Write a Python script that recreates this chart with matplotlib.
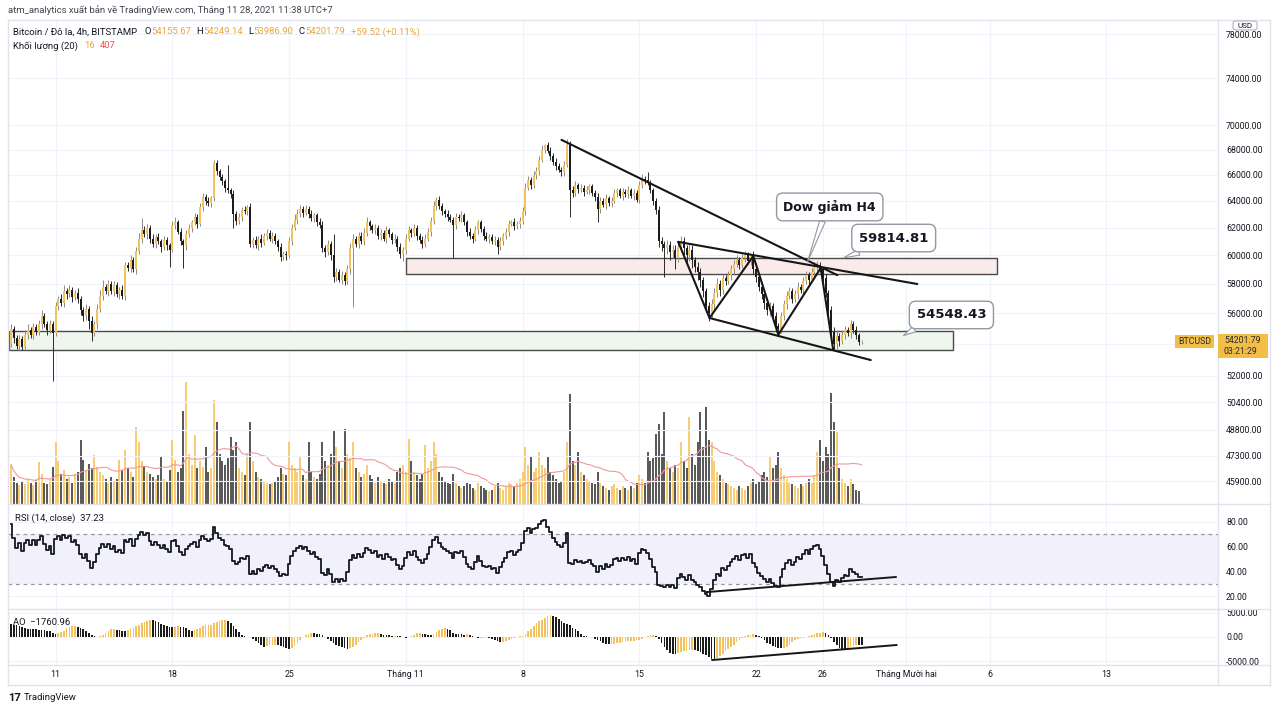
import numpy as np
import pandas as pd
import matplotlib
matplotlib.use("Agg")
import matplotlib.pyplot as plt
from matplotlib.patches import Rectangle, FancyBboxPatch
from matplotlib.lines import Line2D
from matplotlib.ticker import NullLocator, FixedLocator, FixedFormatter

plt.rcParams['font.family'] = ['Roboto', 'DejaVu Sans']

# ------------------------------------------------------------------ data
start_time = "2021-10-08 08:00"     # first 4h candle
first_open = 540.0                  # in hundreds of USD
close_h = [
    550, 544, 539, 543, 538, 546, 549, 546, 551, 548,
    553, 558, 553, 549, 553, 547, 565, 570, 567, 575,
    573, 576, 571, 574, 570, 562, 558, 563, 555, 547,
    553, 563, 572, 578, 575, 580, 575, 579, 573, 576,
    572, 593, 591, 597, 590, 603, 612, 618, 615, 620,
    612, 608, 613, 610, 606, 611, 607, 604, 622, 624,
    617, 610, 607, 615, 620, 624, 628, 623, 635, 643,
    640, 638, 642, 669, 663, 658, 655, 650, 648, 645,
    630, 625, 628, 633, 632, 635, 608, 611, 607, 612,
    609, 614, 616, 612, 614, 610, 606, 599, 601, 600,
    610, 620, 626, 630, 634, 631, 634, 630, 627, 629,
    624, 622, 605, 602, 608, 600, 585, 588, 583, 586,
    582, 590, 605, 612, 608, 614, 610, 616, 624, 621,
    618, 620, 614, 616, 612, 618, 615, 611, 612, 606,
    601, 604, 612, 618, 616, 620, 614, 611, 608, 612,
    617, 625, 636, 641, 636, 632, 630, 628, 626, 622,
    628, 627, 629, 624, 617, 614, 612, 618, 624, 619,
    614, 612, 613, 610, 611, 606, 610, 614, 617, 623,
    624, 621, 623, 625, 632, 650, 656, 652, 660, 663,
    672, 680, 684, 679, 675, 670, 667, 664, 662, 668,
    684, 648, 646, 652, 649, 650, 647, 648, 651, 646,
    643, 634, 640, 637, 642, 638, 640, 646, 648, 644,
    647, 645, 648, 644, 646, 641, 652, 657, 656, 654,
    648, 640, 633, 610, 608, 605, 607, 602, 604, 598,
    606, 610, 605, 600, 604, 597, 592, 588, 583, 575,
    565, 560, 566, 574, 580, 576, 584, 582, 586, 590,
    594, 597, 593, 598, 600, 596, 600, 590, 585, 578,
    573, 567, 562, 565, 558, 552, 550, 558, 566, 572,
    575, 570, 573, 578, 576, 582, 586, 583, 588, 592,
    593, 590, 584, 574, 562, 548, 540, 545, 542, 546,
    549, 547, 553, 549, 546, 541.56, 542.02,
]
wick_up_h = [
    3, 2, 2, 3, 2, 3, 4, 2, 3, 2,
    3, 4, 2, 2, 3, 2, 3, 2, 3, 4,
    2, 3, 2, 2, 3, 2, 2, 3, 2, 3,
    2, 3, 4, 5, 2, 3, 2, 3, 2, 2,
    3, 2, 2, 3, 2, 3, 4, 9, 3, 3,
    2, 3, 2, 3, 2, 3, 2, 2, 3, 4,
    2, 3, 2, 3, 3, 2, 3, 2, 3, 3,
    2, 3, 2, 3, 3, 2, 3, 2, 18, 2,
    3, 2, 3, 2, 3, 2, 3, 2, 3, 2,
    3, 2, 3, 2, 3, 2, 2, 3, 2, 2,
    3, 3, 4, 4, 3, 2, 3, 2, 3, 2,
    2, 3, 3, 2, 3, 2, 15, 3, 2, 3,
    2, 3, 4, 3, 2, 3, 3, 4, 4, 2,
    2, 3, 2, 3, 2, 3, 2, 2, 3, 2,
    3, 2, 3, 3, 2, 3, 2, 2, 3, 3,
    3, 3, 4, 2, 3, 2, 2, 3, 2, 2,
    3, 2, 3, 2, 2, 3, 2, 3, 2, 2,
    2, 3, 2, 2, 3, 2, 3, 2, 3, 3,
    2, 3, 2, 3, 3, 4, 3, 2, 3, 3,
    3, 4, 1, 2, 3, 2, 3, 2, 2, 3,
    5, 3, 3, 3, 2, 3, 2, 3, 2, 2,
    2, 3, 3, 2, 3, 2, 3, 3, 2, 2,
    3, 2, 3, 2, 3, 2, 3, 4, 2, 6,
    2, 2, 2, 3, 3, 2, 4, 3, 3, 3,
    3, 4, 3, 2, 4, 3, 2, 3, 3, 2,
    2, 3, 4, 3, 4, 3, 3, 2, 3, 3,
    3, 3, 2, 3, 3, 2, 1, 3, 3, 2,
    3, 2, 3, 3, 2, 3, 2, 3, 3, 3,
    3, 2, 3, 3, 2, 3, 3, 2, 3, 3,
    3, 2, 2, 3, 2, 3, 3, 4, 2, 3,
    3, 2, 3, 2, 3, 1.5, 0.47,
]
wick_dn_h = [
    2, 3, 2, 3, 2, 2, 3, 2, 3, 2,
    2, 3, 2, 3, 2, 30, 2, 3, 2, 3,
    3, 2, 3, 2, 3, 3, 3, 2, 5, 5,
    2, 3, 2, 3, 2, 3, 2, 3, 2, 3,
    2, 3, 2, 3, 2, 3, 2, 3, 2, 3,
    3, 2, 3, 2, 4, 2, 3, 12, 2, 3,
    2, 3, 16, 3, 2, 3, 2, 3, 2, 3,
    3, 2, 3, 2, 3, 2, 3, 3, 2, 3,
    10, 3, 2, 3, 2, 3, 2, 3, 2, 3,
    3, 2, 3, 2, 3, 2, 3, 3, 2, 3,
    2, 3, 2, 3, 2, 3, 2, 3, 2, 3,
    3, 2, 3, 3, 2, 3, 4, 3, 2, 3,
    3, 2, 3, 41, 2, 3, 2, 3, 2, 3,
    2, 3, 2, 3, 2, 3, 2, 3, 2, 3,
    3, 5, 3, 2, 3, 2, 3, 2, 3, 2,
    2, 3, 2, 3, 2, 3, 2, 3, 2, 24,
    3, 2, 3, 2, 3, 2, 3, 2, 3, 2,
    3, 2, 3, 2, 3, 5, 2, 3, 2, 3,
    2, 3, 2, 3, 2, 3, 2, 3, 2, 3,
    3, 2, 3, 2, 3, 2, 3, 2, 3, 3,
    2, 20, 3, 2, 3, 2, 3, 2, 3, 2,
    3, 10, 3, 2, 3, 2, 3, 2, 3, 2,
    3, 2, 3, 2, 3, 2, 3, 2, 3, 2,
    2, 3, 3, 4, 5, 20, 4, 5, 4, 8,
    3, 4, 5, 5, 4, 6, 4, 5, 5, 4,
    4, 5, 3, 4, 3, 4, 3, 3, 2, 3,
    3, 2, 3, 2, 3, 2, 3, 3, 4, 3,
    3, 4, 3, 4, 3, 3, 4, 3, 2, 3,
    2, 3, 2, 3, 2, 3, 2, 3, 2, 3,
    3, 2, 3, 3, 4, 3, 4, 3, 3, 2,
    3, 2, 3, 2, 3, 2, 1.7,
]
volume = [
    550, 380, 300, 260, 320, 280, 350, 300, 260, 330,
    590, 420, 300, 280, 350, 520, 870, 600, 420, 480,
    350, 380, 300, 420, 450, 900, 620, 480, 560, 500,
    690, 520, 450, 400, 350, 300, 380, 320, 350, 620,
    480, 760, 500, 450, 380, 1080, 870, 600, 520, 450,
    420, 380, 350, 400, 660, 350, 320, 480, 900, 620,
    450, 500, 1300, 1710, 700, 550, 970, 500, 600, 520,
    800, 450, 500, 1460, 1150, 700, 600, 550, 650, 940,
    750, 870, 500, 450, 400, 700, 1150, 600, 450, 380,
    350, 320, 300, 280, 300, 320, 380, 500, 420, 400,
    870, 550, 500, 450, 660, 400, 350, 870, 450, 380,
    350, 420, 870, 600, 550, 700, 1040, 800, 600, 500,
    1050, 700, 650, 870, 500, 450, 380, 420, 550, 400,
    350, 300, 380, 320, 300, 280, 350, 320, 300, 450,
    500, 550, 450, 910, 600, 450, 400, 350, 420, 830,
    500, 600, 870, 700, 450, 380, 320, 300, 280, 420,
    300, 250, 220, 250, 300, 280, 220, 200, 300, 250,
    220, 200, 180, 200, 250, 300, 220, 200, 250, 300,
    280, 250, 300, 350, 450, 800, 550, 660, 450, 500,
    730, 550, 500, 660, 450, 400, 350, 300, 320, 450,
    870, 1540, 600, 550, 730, 450, 400, 350, 320, 300,
    280, 450, 300, 250, 220, 200, 250, 280, 220, 200,
    250, 220, 200, 250, 220, 300, 400, 350, 300, 730,
    600, 650, 980, 1120, 700, 1290, 600, 500, 450, 550,
    500, 870, 600, 500, 1220, 700, 550, 870, 1290, 800,
    1360, 900, 870, 600, 450, 400, 350, 300, 280, 250,
    220, 200, 250, 220, 200, 250, 300, 350, 280, 320,
    400, 450, 380, 660, 500, 550, 730, 500, 400, 350,
    300, 280, 250, 220, 280, 250, 300, 350, 300, 400,
    730, 900, 600, 800, 700, 1550, 1150, 1010, 500, 350,
    300, 250, 350, 280, 200, 180, 16,
]

# indicator state before the first visible candle (estimated from the panes' left edge)
rsi_seed_gain = 150.0     # average 4h gain (USD) -> RSI about 70 at the left edge
rsi_seed_loss = 62.0      # average 4h loss (USD)
pre_median_h = [478, 480, 482, 479, 481, 483, 484, 486, 488, 485, 487, 490, 495,
                500, 505, 510, 513, 512, 520, 535, 548, 552, 550, 546, 541, 538,
                542, 545, 543, 540, 538, 542, 541]   # 33 earlier 4h medians (hundreds USD)

price_ticks = [78000, 74000, 70000, 68000, 66000, 64000, 62000, 60000, 58000,
               56000, 54000, 52000, 50400, 48800, 47300, 45900]
price_tick_labels = ["78000.00", "74000.00", "70000.00", "68000.00", "66000.00",
                     "64000.00", "62000.00", "60000.00", "58000.00", "56000.00", "",
                     "52000.00", "50400.00", "48800.00", "47300.00", "45900.00"]
rsi_ticks = [80, 60, 40, 20]
ao_ticks = [5000, 0, -5000]
date_ticks = ["2021-10-11", "2021-10-18", "2021-10-25", "2021-11-01", "2021-11-08",
              "2021-11-15", "2021-11-22", "2021-11-26", "2021-12-01", "2021-12-06",
              "2021-12-13"]
date_labels = ["11", "18", "25", "Tháng 11", "8", "15", "22", "26",
               "Tháng Mười hai", "6", "13"]

# zones (start, end, low, high)
support_zone = ("2021-10-08 04:20", "2021-12-03 19:00", 53630, 54850)
resist_zone = ("2021-11-01 00:00", "2021-12-06 11:00", 58700, 59815)

# drawings (time, value)
trend_a = [("2021-11-10 08:00", 68800), ("2021-11-26 21:00", 58600)]
trend_b = [("2021-11-17 08:00", 60960), ("2021-12-01 16:00", 57990)]
trend_low = [("2021-11-19 05:00", 55700), ("2021-11-28 21:00", 52990)]
zigzag = [("2021-11-17 08:00", 60960), ("2021-11-19 05:00", 55700),
          ("2021-11-21 20:00", 59950), ("2021-11-23 08:00", 54600),
          ("2021-11-25 21:00", 59100), ("2021-11-26 15:00", 53630)]
rsi_trend = [("2021-11-19 01:00", 23.2), ("2021-11-30 09:00", 35.4)]
ao_trend = [("2021-11-19 09:00", -4790), ("2021-11-30 10:00", -1670)]

callouts = [  # text, text pos, target pos, fontsize, rel pos of tail
    ("Dow giảm H4", ("2021-11-26 10:00", 63540), ("2021-11-25 02:00", 59530), 9.0, (0.45, 0.0)),
    ("59814.81", ("2021-11-30 06:00", 61240), ("2021-11-27 06:00", 59815), 9.5, (0.3, 0.0)),
    ("54548.43", ("2021-12-03 17:00", 55900), ("2021-11-30 20:00", 54548), 9.5, (0.15, 0.0)),
]

# ------------------------------------------------------------------ prep
T0 = pd.Timestamp("2021-10-01")


def day(s):
    return (pd.Timestamp(s) - T0) / pd.Timedelta(days=1)


n = len(close_h)
times = pd.date_range(start_time, periods=n, freq="4h")
x = ((times - T0) / pd.Timedelta(days=1)).to_numpy()
c = np.array(close_h, float) * 100
o = np.r_[first_open, close_h[:-1]].astype(float) * 100
hi = np.maximum(o, c) + np.array(wick_up_h, float) * 100
lo = np.minimum(o, c) - np.array(wick_dn_h, float) * 100
up = c >= o
vol = np.array(volume, float)
vol_ma = pd.Series(vol).rolling(20, min_periods=1).mean().to_numpy()

# RSI(14), Wilder smoothing continued from the state before the window
rsi = np.empty(n)
g, l = rsi_seed_gain, rsi_seed_loss
prev = first_open * 100
for i in range(n):
    d = c[i] - prev
    g = (g * 13 + max(d, 0)) / 14
    l = (l * 13 + max(-d, 0)) / 14
    rsi[i] = 100 - 100 / (1 + g / l)
    prev = c[i]

# Awesome Oscillator: SMA5 - SMA34 of median price
med = pd.Series(np.r_[np.array(pre_median_h, float) * 100, (hi + lo) / 2])
ao_all = med.rolling(5, min_periods=1).mean() - med.rolling(34, min_periods=1).mean()
ao = ao_all.to_numpy()[len(pre_median_h):]
ao_rise = np.diff(ao_all.to_numpy())[len(pre_median_h) - 1:] >= 0

# ------------------------------------------------------------------ style
UP = "#f4c25c"
DN = "#1c1c1c"
UP_WICK = "#8c8c8c"
DN_WICK = "#2a2a2a"
VUP = "#f6cd74"
VDN = "#5a5a5a"
GRID = "#f0f3fa"
TXT = "#131722"
FRAME = "#e0e3eb"
FS = 6.3
FSH = 6.8

W, H = 1280, 713
fig = plt.figure(figsize=(W / 100, H / 100), dpi=100)
fig.patch.set_facecolor("white")


def rect(x0, y0, x1, y1):
    return [x0 / W, 1 - y1 / H, (x1 - x0) / W, (y1 - y0) / H]


L, R = 8, 1218
ax_vol = fig.add_axes(rect(L, 20, R, 504))
ax = fig.add_axes(rect(L, 20, R, 504), sharex=ax_vol)
ax_rsi = fig.add_axes(rect(L, 504, R, 609), sharex=ax_vol)
ax_ao = fig.add_axes(rect(L, 609, R, 665), sharex=ax_vol)
ax_vol.set_zorder(0)
ax.set_zorder(1)
ax.patch.set_visible(False)

x_left = day("2021-10-08 04:20") - 0.03
x_right = x_left + (R - L) / 16.68
ax_vol.set_xlim(x_left, x_right)

tick_x = [day(t) for t in date_ticks]
for a in (ax_vol, ax, ax_rsi, ax_ao):
    for sp in a.spines.values():
        sp.set_visible(False)
    a.tick_params(axis="both", length=0, labelsize=FS, labelcolor=TXT)
    a.xaxis.set_major_locator(FixedLocator(tick_x))

# volume
ax_vol.bar(x, vol, width=0.72 / 6, color=np.where(up, VUP, VDN), linewidth=0, zorder=2)
ax_vol.plot(x, vol_ma, color="#ef9a9a", lw=0.8, zorder=3)
ax_vol.set_ylim(0, 484 * 14)
ax_vol.set_yticks([])
ax_vol.tick_params(labelbottom=False)
ax_vol.grid(axis="x", color=GRID, lw=0.8)
ax_vol.set_axisbelow(True)

# main price pane
ax.set_yscale("log")
ax.set_ylim(44676, 79306)
ax.yaxis.set_major_locator(FixedLocator(price_ticks))
ax.yaxis.set_minor_locator(NullLocator())
ax.yaxis.set_major_formatter(FixedFormatter(price_tick_labels))
ax.yaxis.tick_right()
ax.tick_params(axis="y", pad=5.8)
ax.tick_params(labelbottom=False)
ax.grid(axis="y", color=GRID, lw=0.8)

for (t0, t1, p0, p1), fc in ((support_zone, "#eef6ee"), (resist_zone, "#fbeaea")):
    ax.add_patch(Rectangle((day(t0), p0), day(t1) - day(t0), p1 - p0,
                           facecolor=fc, edgecolor="#4a4a4a", lw=1.0, zorder=2))

ax.vlines(x[up], lo[up], hi[up], color=UP_WICK, lw=0.7, zorder=3)
ax.vlines(x[~up], lo[~up], hi[~up], color=DN_WICK, lw=0.7, zorder=3)
body_b = np.minimum(o, c)
body_h = np.maximum(np.abs(c - o), 25)
ax.bar(x[up], body_h[up], bottom=body_b[up], width=0.72 / 6, color=UP, linewidth=0, zorder=4)
ax.bar(x[~up], body_h[~up], bottom=body_b[~up], width=0.72 / 6, color=DN, linewidth=0, zorder=4)

for line in (trend_a, trend_b, trend_low, zigzag):
    ax.plot([day(t) for t, _ in line], [v for _, v in line], color="#161616", lw=1.5,
            zorder=6, solid_capstyle="round")

for txt, (tt, tv), (pt, pv), fs, rel in callouts:
    ax.annotate(txt, xy=(day(pt), pv), xytext=(day(tt), tv), ha="center", va="center",
                fontsize=fs, fontweight="bold", color=TXT, family="DejaVu Sans", zorder=8,
                bbox=dict(boxstyle="round,pad=0.55,rounding_size=0.5", fc="white",
                          ec="#9598a1", lw=1.0),
                arrowprops=dict(arrowstyle="wedge,tail_width=0.45,shrink_factor=0.5",
                                fc="white", ec="#9598a1", lw=0.8, relpos=rel,
                                shrinkA=0, shrinkB=0))

# RSI pane
ax_rsi.set_ylim(9.5, 94.5)
ax_rsi.axhspan(30, 70, color="#f2f0fa", zorder=0, lw=0)
for lvl in (70, 30):
    ax_rsi.axhline(lvl, color="#9598a1", lw=0.9, ls=(0, (3, 3)), zorder=1)
ax_rsi.plot(x, rsi, drawstyle="steps-mid", color=TXT, lw=1.3, zorder=3)
ax_rsi.plot([day(t) for t, _ in rsi_trend], [v for _, v in rsi_trend], color="#161616",
            lw=1.4, zorder=4)
ax_rsi.yaxis.set_major_locator(FixedLocator(rsi_ticks))
ax_rsi.yaxis.set_major_formatter(FixedFormatter([f"{v:.2f}" for v in rsi_ticks]))
ax_rsi.yaxis.tick_right()
ax_rsi.tick_params(axis="y", pad=5.8)
ax_rsi.tick_params(labelbottom=False)
ax_rsi.grid(axis="both", color=GRID, lw=0.8)
ax_rsi.set_axisbelow(True)
ax_rsi.text(0.0055, 0.86, "RSI (14, close)  37.23", transform=ax_rsi.transAxes,
            fontsize=FSH, color=TXT, ha="left", va="center")

# AO pane
ax_ao.set_ylim(-5833, 5833)
ax_ao.text(0.004, 0.76, "AO  −1760.96", transform=ax_ao.transAxes,
           fontsize=FSH, color=TXT, ha="left", va="center", zorder=1)
ax_ao.bar(x, ao, width=0.1, color=np.where(ao_rise, UP, DN), linewidth=0, zorder=3)
ax_ao.plot([day(t) for t, _ in ao_trend], [v for _, v in ao_trend], color="#161616",
           lw=1.4, zorder=4)
ax_ao.yaxis.set_major_locator(FixedLocator(ao_ticks))
ax_ao.yaxis.set_major_formatter(FixedFormatter([f"{v:.2f}" for v in ao_ticks]))
ax_ao.yaxis.tick_right()
ax_ao.tick_params(axis="y", pad=5.8)
ax_ao.xaxis.set_major_formatter(FixedFormatter(date_labels))
ax_ao.tick_params(axis="x", pad=3.5)
ax_ao.grid(axis="both", color=GRID, lw=0.8)
ax_ao.set_axisbelow(True)


# ------------------------------------------------------------------ frame / separators
def fline(x0, y0, x1, y1, color=FRAME, lw=1.0):
    fig.add_artist(Line2D([x0 / W, x1 / W], [1 - y0 / H, 1 - y1 / H], color=color, lw=lw,
                          transform=fig.transFigure, zorder=4))


fline(L, 20, 1270, 20)
fline(L, 685, 1270, 685)
fline(L, 20, L, 685)
fline(1270, 20, 1270, 685)
fline(R, 20, R, 685)
fline(L, 504, 1270, 504)
fline(L, 609, 1270, 609)
fline(L, 665, 1270, 665)


def frect(x0, y0, x1, y1, fc, ec="none", round_=False):
    if round_:
        p = FancyBboxPatch((x0 / W, 1 - y1 / H), (x1 - x0) / W, (y1 - y0) / H,
                           boxstyle="round,pad=0,rounding_size=0.003", fc=fc, ec=ec, lw=0.8,
                           transform=fig.transFigure, zorder=6)
    else:
        p = Rectangle((x0 / W, 1 - y1 / H), (x1 - x0) / W, (y1 - y0) / H, fc=fc, ec=ec,
                      lw=0.8, transform=fig.transFigure, zorder=6)
    fig.add_artist(p)


# last-price tags
frect(1175, 335, 1214, 348, "#f2be48")
fig.text(1194.5 / W, 1 - 341.5 / H, "BTCUSD", fontsize=FS, color="#2b2b2b",
         ha="center", va="center", zorder=7)
frect(1218, 334, 1268, 358, "#f2be48")
fig.text(1224 / W, 1 - 340.5 / H, "54201.79", fontsize=FS, color="#2b2b2b",
         ha="left", va="center", zorder=7)
fig.text(1224 / W, 1 - 352 / H, "03:21:29", fontsize=FS, color="#2b2b2b",
         ha="left", va="center", zorder=7)
frect(1233, 21, 1257, 30, "white", ec="#b2b5be", round_=True)
fig.text(1245 / W, 1 - 25.5 / H, "USD", fontsize=FS - 0.5, color=TXT,
         ha="center", va="center", zorder=7)

# ------------------------------------------------------------------ header texts
renderer = fig.canvas.get_renderer()


def seq_text(x_px, y_px, parts, size=FSH):
    xp = x_px
    for txt, col, gap in parts:
        t = fig.text(xp / W, 1 - y_px / H, txt, color=col, fontsize=size,
                     ha="left", va="center", zorder=7)
        xp += t.get_window_extent(renderer=renderer).width + gap


YV = "#eaa83a"
seq_text(8, 10, [("atm_analytics xuất bản về TradingView.com, Tháng 11 28, 2021 11:38 UTC+7",
                  "#434651", 0)])
seq_text(13, 32, [("Bitcoin / Đô la, 4h, BITSTAMP", TXT, 7),
                  ("O", TXT, 0.6), ("54155.67", YV, 5),
                  ("H", TXT, 0.6), ("54249.14", YV, 5),
                  ("L", TXT, 0.6), ("53986.90", YV, 5),
                  ("C", TXT, 0.6), ("54201.79", YV, 6),
                  ("+59.52 (+0.11%)", YV, 0)])
seq_text(13, 46, [("Khối lượng (20)", TXT, 6), ("16", YV, 5), ("407", "#ef5350", 0)])

fig.text(8 / W, 1 - 698 / H, "17", fontsize=8, fontweight="bold", color=TXT,
         ha="left", va="center")
fig.text(24 / W, 1 - 698 / H, "TradingView", fontsize=FSH, color=TXT,
         ha="left", va="center")

fig.savefig("out.png", dpi=100, facecolor="white")
